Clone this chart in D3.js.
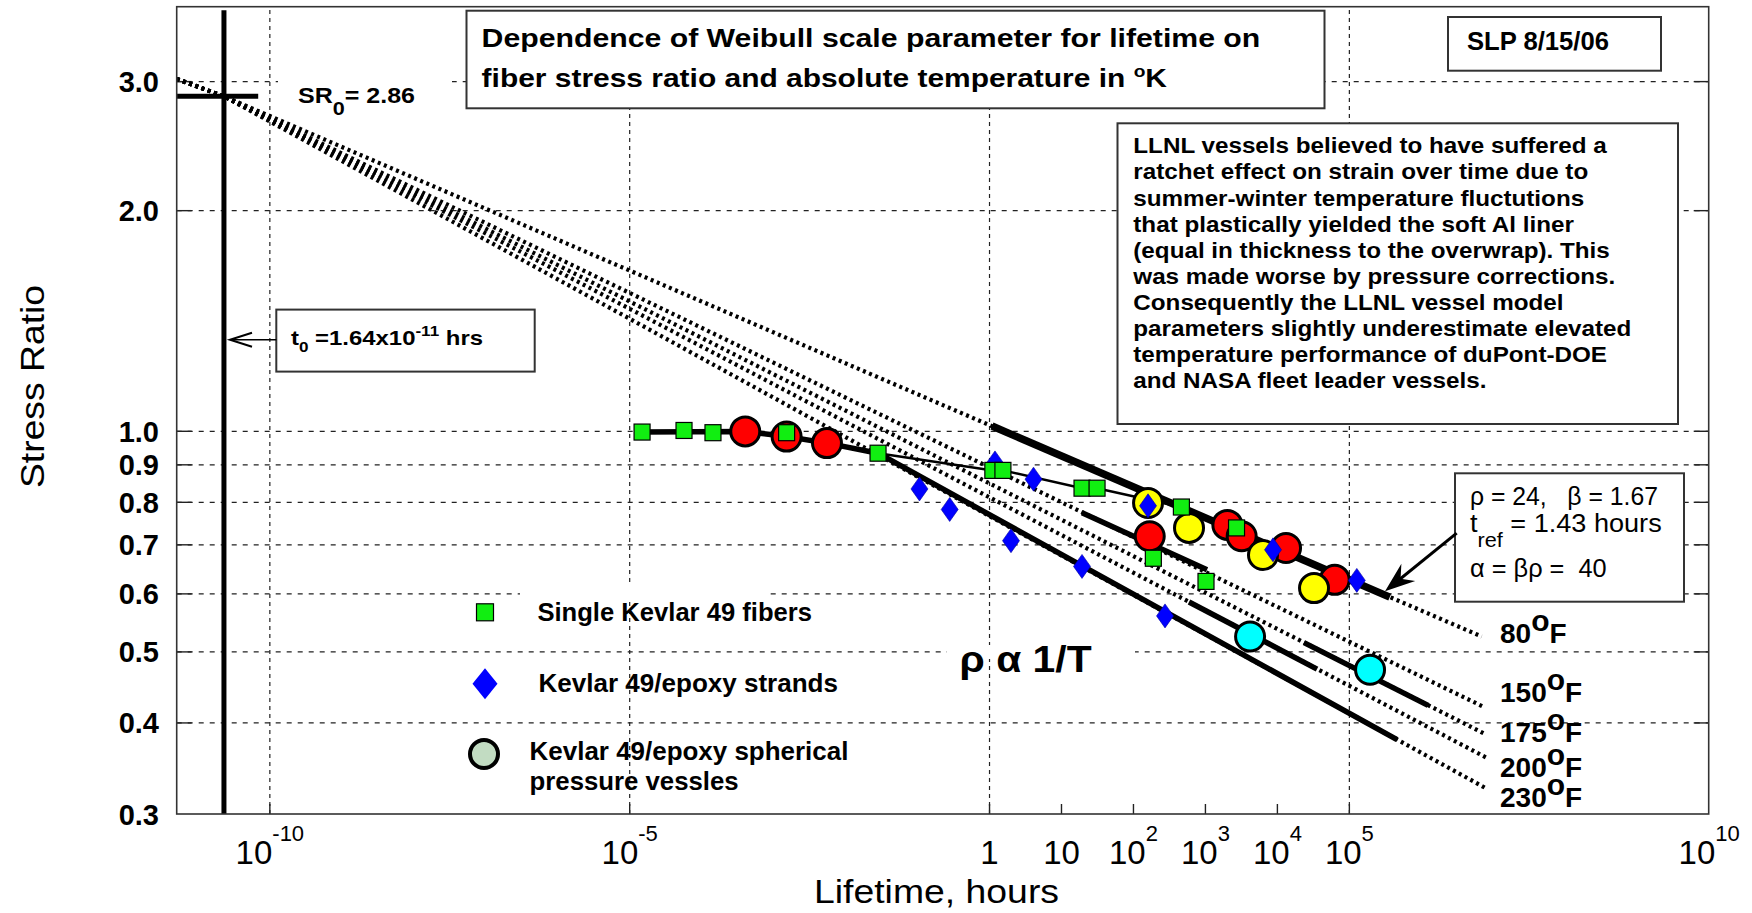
<!DOCTYPE html>
<html><head><meta charset="utf-8">
<script src="https://cdn.jsdelivr.net/npm/d3@7"></script>
<style>body{margin:0;background:#fff}text{white-space:pre}</style>
</head><body>
<svg id="c" width="1752" height="913" xmlns="http://www.w3.org/2000/svg"></svg>
<script>
// ================= DATA =================
const xDomain = [5.16e-12, 1e10];
const yDomain = [0.3, 3.79];
const yTicks = [3.0, 2.0, 1.0, 0.9, 0.8, 0.7, 0.6, 0.5, 0.4, 0.3];
const yTickLabels = ["3.0","2.0","1.0","0.9","0.8","0.7","0.6","0.5","0.4","0.3"];
const yGrid = [3.0, 2.0, 1.0, 0.9, 0.8, 0.7, 0.6, 0.5, 0.4];
const xGrid = [1e-10, 1e-5, 1, 1e5];
const xMinorTicks = [10, 100, 1e3, 1e4];
const xLabelTicks = [1e-10, 1e-5, 1, 10, 100, 1e3, 1e4, 1e5, 1e10];
const xTickLabels = [["10","-10"],["10","-5"],["1",""],["10",""],["10","2"],["10","3"],["10","4"],["10","5"],["10","10"]];

const t0Line = 2.34e-11;      // drawn position of the t0 line
const SR0 = 2.86;
const sr0LineEnd = 7.0e-11;

const tempLabels = ["80","150","175","200","230"];
const tempLineStart = [5.16e-12, 3.02];
const tempLineEnds = [[7.0e6,0.524],[7.3e6,0.4205],[8.2e6,0.3848],[8.2e6,0.358],[7.8e6,0.3258]];

const fit80  = [[1.1,1.015],[3.7e5,0.593]];
const fit150 = [[19.6,0.773],[1069,0.646]];
const fit175 = [[2.38e4,0.514],[1.26e6,0.422]];
const fit200 = [[601,0.584],[3.61e4,0.473]];
const fit230 = [[1.51e-5,0.996],[4.1e-4,0.998],[1.54e-3,0.982],[5.6e-3,0.962],[0.0287,0.932],[4.67e5,0.379]];
const fiberTrend = [[0.0287,0.932],[1.13,0.883],[1.56,0.883],[19.6,0.835],[31.7,0.835],[471,0.787]];

const fibers = [[1.51e-5,0.996],[5.78e-5,1.001],[1.46e-4,0.994],[1.54e-3,0.994],[0.0287,0.932],
  [1.13,0.883],[1.56,0.883],[19.6,0.835],[31.7,0.835],[471,0.787],[2750,0.737],[192,0.670],[1035,0.623]];
const strands = [[0.108,0.833],[0.284,0.781],[1.21,0.904],[2.02,0.708],[4.15,0.859],[19.6,0.653],
  [162,0.790],[279,0.559],[8830,0.688],[1.29e5,0.625]];
const vesselsRed = [[4.1e-4,0.998],[1.54e-3,0.982],[5.6e-3,0.962],[171,0.718],[2050,0.744],[3240,0.718],[1.34e4,0.692],[6.36e4,0.626]];
const vesselsYellow = [[162,0.797],[601,0.737],[6410,0.677],[3.28e4,0.610]];
const vesselsCyan = [[4240,0.524],[1.97e5,0.472]];

const legendItems = ["Single Kevlar 49 fibers","Kevlar 49/epoxy strands","Kevlar 49/epoxy spherical","pressure vessles"];
const noteLines = ["LLNL vessels believed to have suffered a","ratchet effect on strain over time due to",
 "summer-winter temperature fluctutions","that plastically yielded the soft Al liner",
 "(equal in thickness to the overwrap). This","was made worse by pressure corrections.",
 "Consequently the LLNL vessel model","parameters slightly underestimate elevated",
 "temperature performance of duPont-DOE","and NASA fleet leader vessels."];

// ================= LAYOUT =================
const L = 176.7, R = 1708.7, T = 6.7, B = 814;
const FONT = "'Liberation Sans', Arial, Helvetica, sans-serif";
const svg = d3.select("#c");
const x = d3.scaleLog().domain(xDomain).range([L, R]);
const y = d3.scaleLog().domain(yDomain).range([B, T]);

function addText(g, x0, y0, parts, o) {
  const t = g.append("text").attr("x", x0).attr("y", y0)
    .attr("font-family", o.family || FONT).attr("font-size", o.size)
    .attr("font-weight", o.weight || "normal").attr("fill", "#000");
  if (o.anchor) t.attr("text-anchor", o.anchor);
  if (o.transform) t.attr("transform", o.transform);
  parts.forEach(p => {
    if (typeof p === "string") p = {t: p};
    const ts = t.append("tspan").text(p.t);
    if (p.dy) ts.attr("dy", p.dy);
    if (p.size) ts.attr("font-size", p.size);
  });
  if (o.width) t.attr("textLength", o.width).attr("lengthAdjust", "spacingAndGlyphs");
  return t;
}

// ---------- gridlines ----------
const gGrid = svg.append("g");
const gy = gGrid.append("g").attr("transform", `translate(${L},0)`)
  .call(d3.axisLeft(y).tickValues(yGrid).tickSize(-(R - L)).tickFormat(""));
gy.select(".domain").remove();
gy.selectAll(".tick line").attr("stroke", "#222").attr("stroke-width", 1.2).attr("stroke-dasharray", "5,6");
const gxg = gGrid.append("g").attr("transform", `translate(0,${B})`)
  .call(d3.axisBottom(x).tickValues(xGrid).tickSize(-(B - T)).tickFormat(""));
gxg.select(".domain").remove();
gxg.selectAll(".tick line").attr("stroke", "#222").attr("stroke-width", 1.2).attr("stroke-dasharray", "4,4");

// solid ticks
[[d3.axisLeft(y), L], [d3.axisRight(y), R]].forEach(([ax, px]) => {
  const g = gGrid.append("g").attr("transform", `translate(${px},0)`).call(ax.tickValues(yGrid).tickSize(-15).tickFormat(""));
  g.select(".domain").remove();
  g.selectAll(".tick line").attr("stroke", "#222").attr("stroke-width", 1.4);
});
const gbt = gGrid.append("g").attr("transform", `translate(0,${B})`)
  .call(d3.axisBottom(x).tickValues(xGrid.concat(xMinorTicks)).tickSize(-10).tickFormat(""));
gbt.select(".domain").remove();
gbt.selectAll(".tick line").attr("stroke", "#222").attr("stroke-width", 1.4);

// white masks behind free text
const gMask = svg.append("g").attr("fill", "#fff");
gMask.append("rect").attr("x", 278).attr("y", 68).attr("width", 174).attr("height", 46);
gMask.append("rect").attr("x", 520).attr("y", 586).attr("width", 247).attr("height", 14);
gMask.append("rect").attr("x", 947).attr("y", 645).attr("width", 188).attr("height", 14);

// ---------- boxes ----------
const boxes = [
  {x:466.5, y:10.7, w:858, h:97.6},
  {x:1448, y:17, w:213, h:53.7},
  {x:1117.5, y:123.3, w:560.5, h:300.7},
  {x:276.3, y:309.6, w:258.4, h:62},
  {x:1455, y:473.3, w:229, h:128.4}
];
svg.append("g").selectAll("rect").data(boxes).join("rect")
  .attr("x", d => d.x).attr("y", d => d.y).attr("width", d => d.w).attr("height", d => d.h)
  .attr("fill", "#fff").attr("stroke", "#333").attr("stroke-width", 2);

// ---------- lines ----------
const line = d3.line().x(d => x(d[0])).y(d => y(d[1]));
const gLines = svg.append("g").attr("fill", "none").attr("stroke", "#000");
tempLineEnds.forEach(e => {
  gLines.append("path").attr("d", line([tempLineStart, [t0Line, SR0], e]))
    .attr("stroke-width", 4.2).attr("stroke-dasharray", "3,3.6");
});
gLines.append("path").attr("d", line(fit80)).attr("stroke-width", 7.5);
[fit150, fit175, fit200].forEach(f => gLines.append("path").attr("d", line(f)).attr("stroke-width", 5.5));
gLines.append("path").attr("d", line(fit230)).attr("stroke-width", 5.5).attr("stroke-linejoin", "round");
gLines.append("path").attr("d", line(fiberTrend)).attr("stroke-width", 2.5);

// t0 and SR0 lines
gLines.append("line").attr("x1", x(t0Line)).attr("x2", x(t0Line)).attr("y1", T + 3.5).attr("y2", B).attr("stroke-width", 5);
gLines.append("line").attr("x1", x(xDomain[0])).attr("x2", x(sr0LineEnd)).attr("y1", y(SR0)).attr("y2", y(SR0)).attr("stroke-width", 5);

// ---------- markers ----------
const gM = svg.append("g");
function circles(data, fill) {
  gM.append("g").selectAll("circle").data(data).join("circle")
    .attr("cx", d => x(d[0])).attr("cy", d => y(d[1])).attr("r", 14.5)
    .attr("fill", fill).attr("stroke", "#000").attr("stroke-width", 3);
}
circles(vesselsRed, "#ff0000");
circles(vesselsYellow, "#ffff00");
circles(vesselsCyan, "#00ffff");
const diamond = (w, h) => `M0,${-h/2}L${w/2},0L0,${h/2}L${-w/2},0Z`;
gM.append("g").selectAll("path").data(strands).join("path")
  .attr("transform", d => `translate(${x(d[0])},${y(d[1])})`).attr("d", diamond(17, 24))
  .attr("fill", "#0000ff").attr("stroke", "#0000a0").attr("stroke-width", 0.6);
gM.append("g").selectAll("rect").data(fibers).join("rect")
  .attr("x", d => x(d[0]) - 8).attr("y", d => y(d[1]) - 8).attr("width", 16).attr("height", 16)
  .attr("fill", "#11ee11").attr("stroke", "#000").attr("stroke-width", 1.2);

// ---------- legend ----------
const gL = svg.append("g");
gL.append("rect").attr("x", 485 - 8.5).attr("y", 612.3 - 8.5).attr("width", 17).attr("height", 17)
  .attr("fill", "#11ee11").attr("stroke", "#000").attr("stroke-width", 1.2);
gL.append("path").attr("transform", "translate(485,683.8)").attr("d", diamond(25, 31)).attr("fill", "#0000ff");
gL.append("circle").attr("cx", 484).attr("cy", 754).attr("r", 14).attr("fill", "#c2dcc2")
  .attr("stroke", "#000").attr("stroke-width", 4);
const legPos = [[537.4, 621, 274.6], [538.5, 692, 299.5], [529.6, 760, 318.8], [529.6, 790, 209]];
legendItems.forEach((s, i) => addText(gL, legPos[i][0], legPos[i][1], [s], {size: 25, weight: "bold", width: legPos[i][2]}));

// ---------- axes labels ----------
const gyl = svg.append("g").attr("transform", `translate(${L},0)`)
  .call(d3.axisLeft(y).tickValues(yTicks).tickSize(0).tickPadding(17.7).tickFormat((d, i) => yTickLabels[i]));
gyl.select(".domain").remove();
gyl.attr("font-family", FONT).attr("font-size", 29).attr("font-weight", "bold");
gyl.selectAll(".tick text").attr("dy", "0.36em").attr("fill", "#000");

const gxl = svg.append("g").attr("transform", `translate(0,${B})`)
  .call(d3.axisBottom(x).tickValues(xLabelTicks).tickSize(0).tickFormat(""));
gxl.select(".domain").remove();
gxl.attr("font-family", FONT).attr("font-size", 33);
gxl.selectAll(".tick text").attr("y", 50).attr("dy", null).attr("fill", "#000").each(function(d, i) {
  const t = d3.select(this);
  t.append("tspan").text(xTickLabels[i][0]);
  if (xTickLabels[i][1]) t.append("tspan").attr("dy", -23).attr("font-size", 22).text(xTickLabels[i][1]);
});

addText(svg, 814, 902.7, ["Lifetime, hours"], {size: 33, width: 245});
addText(svg, 0, 0, ["Stress Ratio"], {size: 33, width: 203, anchor: "middle", transform: "translate(44,386.5) rotate(-90)"});

// ---------- annotations ----------
const gA = svg.append("g");
addText(gA, 481.6, 46.5, ["Dependence of Weibull scale parameter for lifetime on"], {size: 25, weight: "bold", width: 778.7});
addText(gA, 481.6, 87, ["fiber stress ratio and absolute temperature in ", {t: "o", dy: -10, size: 16}, {t: "K", dy: 10}], {size: 25, weight: "bold", width: 685.4});
addText(gA, 1467, 50, ["SLP 8/15/06"], {size: 25, weight: "bold", width: 142});

// LLNL note with a common horizontal stretch
const noteTexts = noteLines.map((s, i) => addText(gA, 1133.3, 153.3 + i * 26.1, [s], {size: 21.5, weight: "bold"}));
const kNote = 498.1 / noteTexts[7].node().getComputedTextLength();
noteTexts.forEach(t => t.attr("textLength", t.node().getComputedTextLength() * kNote).attr("lengthAdjust", "spacingAndGlyphs"));

addText(gA, 298, 103.3, ["SR", {t: "0", dy: 12, size: 19}, {t: "= 2.86", dy: -12}], {size: 22, weight: "bold", width: 117});
addText(gA, 291, 345, ["t", {t: "0", dy: 7, size: 15}, {t: " =1.64x10", dy: -7}, {t: "-11", dy: -9, size: 15}, {t: " hrs", dy: 9}], {size: 21, weight: "bold", width: 192});

// t0 arrow
gA.append("line").attr("x1", 276.3).attr("x2", 231).attr("y1", 339.7).attr("y2", 339.7).attr("stroke", "#000").attr("stroke-width", 1.5);
gA.append("path").attr("d", "M252,332.7L230,339.7L252,346.7").attr("fill", "none").attr("stroke", "#000").attr("stroke-width", 2);

// parameter box
addText(gA, 1470, 505, ["ρ = 24,   β = 1.67"], {size: 25, width: 188});
addText(gA, 1470, 531.7, ["t", {t: "ref", dy: 15, size: 20}, {t: " = 1.43 hours", dy: -15}], {size: 25, width: 191.7});
addText(gA, 1470, 576.7, ["α = βρ =  40"], {size: 25, width: 136.7});

// arrow to 80F fit
const tip = [x(3.18e5), y(0.604)], tail = [x(3.15e6), y(0.725)];
gA.append("line").attr("x1", tail[0]).attr("y1", tail[1]).attr("x2", tip[0] + 8).attr("y2", tip[1] - 6.5)
  .attr("stroke", "#000").attr("stroke-width", 3);
{
  const dx = tail[0] - tip[0], dy = tail[1] - tip[1], len = Math.hypot(dx, dy);
  const ux = dx / len, uy = dy / len, nx = -uy, ny = ux;
  const hl = 30, hw = 11, inner = 20;
  const b1 = [tip[0] + ux * hl + nx * hw, tip[1] + uy * hl + ny * hw];
  const b2 = [tip[0] + ux * hl - nx * hw, tip[1] + uy * hl - ny * hw];
  const ip = [tip[0] + ux * inner, tip[1] + uy * inner];
  gA.append("path").attr("d", `M${tip}L${b1}L${ip}L${b2}Z`).attr("fill", "#000");
}

// temperature labels
const tempBase = [643.3, 701.7, 741.7, 776.7, 806.7];
tempLabels.forEach((s, i) => addText(gA, 1500, tempBase[i], [s, {t: "o", dy: -12, size: 30}, {t: "F", dy: 12}], {size: 28, weight: "bold"}));

addText(gA, 959.6, 671.7, ["ρ α 1/T"], {size: 37, weight: "bold", width: 132});

// frame
svg.append("rect").attr("x", L).attr("y", T).attr("width", R - L).attr("height", B - T)
  .attr("fill", "none").attr("stroke", "#333").attr("stroke-width", 1.6);
</script>
</body></html>
